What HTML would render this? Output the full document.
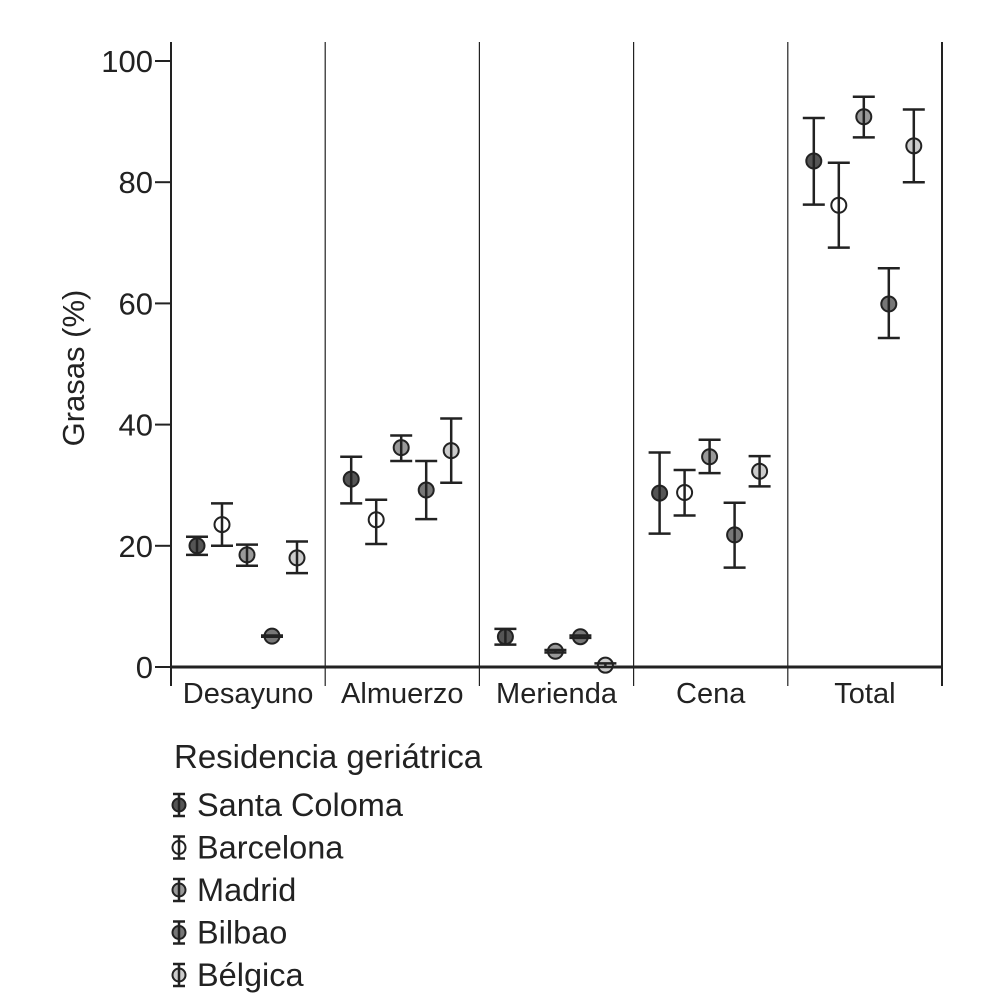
<!DOCTYPE html>
<html><head><meta charset="utf-8"><style>
html,body{margin:0;padding:0;background:#fff;}
svg{display:block;font-family:"Liberation Sans",sans-serif;}
</style></head><body>
<svg id="chart" width="995" height="995" viewBox="0 0 995 995">
<g id="axes"></g>
<g id="marks"></g>
<g id="legend"></g>
</svg>
<script>
const categories = ["Desayuno","Almuerzo","Merienda","Cena","Total"];
const seriesNames = ["Santa Coloma","Barcelona","Madrid","Bilbao","Bélgica"];
const seriesColors = ["#555555","#ffffff","#999999","#777777","#cccccc"];
const yTicks = [0,20,40,60,80,100];
// values per series, per category (null = missing)
const santaColoma = [20, 31, 5, 28.7, 83.5];
const santaColomaLo = [18.5, 27, 3.7, 22, 76.3];
const santaColomaHi = [21.5, 34.7, 6.3, 35.4, 90.6];
const barcelona = [23.5, 24.3, null, 28.8, 76.2];
const barcelonaLo = [20, 20.3, null, 25, 69.2];
const barcelonaHi = [27, 27.6, null, 32.5, 83.2];
const madrid = [18.5, 36.2, 2.6, 34.7, 90.8];
const madridLo = [16.7, 34, 2.4, 32, 87.4];
const madridHi = [20.2, 38.2, 2.8, 37.5, 94.1];
const bilbao = [5.1, 29.2, 5, 21.8, 59.9];
const bilbaoLo = [5, 24.4, 4.8, 16.4, 54.3];
const bilbaoHi = [5.2, 34, 5.2, 27.1, 65.8];
const belgica = [18, 35.7, 0.3, 32.3, 86];
const belgicaLo = [15.5, 30.4, 0, 29.8, 80];
const belgicaHi = [20.7, 41, 0.6, 34.8, 92];

const means=[santaColoma,barcelona,madrid,bilbao,belgica];
const los=[santaColomaLo,barcelonaLo,madridLo,bilbaoLo,belgicaLo];
const his=[santaColomaHi,barcelonaHi,madridHi,bilbaoHi,belgicaHi];

const NS="http://www.w3.org/2000/svg";
const X0=171, PW=154.2, Y0=667, Y100=61;
const y=v=>Y0+(Y100-Y0)*v/100;
const xp=(c,s)=>X0+c*PW+26+s*25;
function mk(tag,attrs,parent,text){const e=document.createElementNS(NS,tag);for(const k in attrs)e.setAttribute(k,attrs[k]);if(text!==undefined)e.textContent=text;parent.appendChild(e);return e;}
const axes=document.getElementById('axes'),marks=document.getElementById('marks'),legend=document.getElementById('legend');

let e=mk('line',{x1:X0,y1:42,x2:X0,y2:686,stroke:'#222','stroke-width':2},axes);


e=mk('line',{x1:X0-1,y1:Y0,x2:X0+5*PW+1,y2:Y0,stroke:'#222','stroke-width':3},axes);


yTicks.forEach(t=>{
  let l=mk('line',{x1:155,y1:y(t),x2:X0,y2:y(t),stroke:'#222','stroke-width':2},axes);
  
  
  let tx=mk('text',{x:153,y:y(t)+11,'text-anchor':'end','font-size':31,fill:'#222'},axes,String(t));
  
  
});
for(let i=1;i<=categories.length;i++){
  let l=mk('line',{x1:X0+i*PW,y1:42,x2:X0+i*PW,y2:686,stroke:'#222','stroke-width':i==categories.length?2:1.2},axes);
  
  
}
categories.forEach((c,i)=>{
  let t=mk('text',{x:X0+(i+0.5)*PW,y:703,'text-anchor':'middle','font-size':29,fill:'#222'},axes,c);
  
  
});
let yt=mk('text',{x:0,y:0,'text-anchor':'middle','font-size':31,fill:'#222',transform:'translate(84,368) rotate(-90)'},axes,'Grasas (%)');



function marker(parent,cx,cy,lo,hi,color,r,cap){
  mk('circle',{cx:cx,cy:cy,r:r,fill:color,stroke:'#222','stroke-width':2},parent);
  mk('line',{x1:cx,y1:lo,x2:cx,y2:hi,stroke:'#222','stroke-width':2.5},parent);
  mk('line',{x1:cx-cap,y1:lo,x2:cx+cap,y2:lo,stroke:'#222','stroke-width':2.5},parent);
  mk('line',{x1:cx-cap,y1:hi,x2:cx+cap,y2:hi,stroke:'#222','stroke-width':2.5},parent);
}
means.forEach((arr,s)=>{
  arr.forEach((v,c)=>{
    if(v===null)return;
    const g=mk('g',{},marks);
    
    
    marker(g,xp(c,s),y(v),y(los[s][c]),y(his[s][c]),seriesColors[s],7.5,11);
  });
});
let lt=mk('text',{x:174,y:768,'font-size':33,fill:'#222'},legend,'Residencia geriátrica');


seriesNames.forEach((n,i)=>{
  const cy=805+i*42.5;
  const g=mk('g',{},legend);
  
  
  marker(g,179,cy,cy+11,cy-11,seriesColors[i],6.5,6);
  mk('text',{x:197,y:cy+11,'font-size':32.5,fill:'#222'},g,n);
});
</script>
</body></html>
